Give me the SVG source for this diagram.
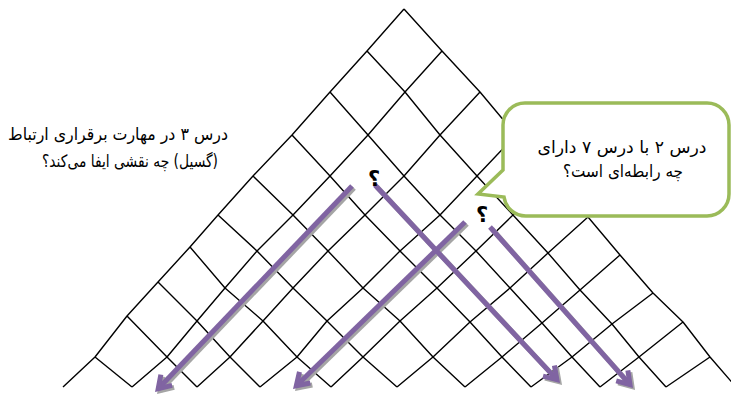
<svg xmlns="http://www.w3.org/2000/svg" width="731" height="394" viewBox="0 0 731 394">
<defs>
<style>
.g{fill:none;stroke:#000;stroke-width:1.4;stroke-linejoin:round}
.a{fill:none;stroke:#8064A2;stroke-width:5}
.s{fill:none;stroke:#A5A5A5;stroke-width:5}
.t{font-family:"DejaVu Sans",sans-serif;font-size:17px;fill:#000;text-anchor:middle;direction:rtl;unicode-bidi:embed}
.q{font-family:"DejaVu Sans",sans-serif;font-size:21px;font-weight:bold;fill:#000;text-anchor:middle}
</style>
<marker id="mh" markerUnits="userSpaceOnUse" orient="auto" refX="0" refY="0" markerWidth="40" markerHeight="40" viewBox="-20 -20 40 40" overflow="visible">
<path d="M-12,-7.8 L0,0 L-12,7.8" fill="none" stroke="#8064A2" stroke-width="5"/>
</marker>
<marker id="ms" markerUnits="userSpaceOnUse" orient="auto" refX="0" refY="0" markerWidth="40" markerHeight="40" viewBox="-20 -20 40 40" overflow="visible">
<path d="M-12,-7.8 L0,0 L-12,7.8" fill="none" stroke="#A5A5A5" stroke-width="5"/>
</marker>
</defs>
<rect width="731" height="394" fill="#fff"/>
<g id="grid">
<polyline class="g" points="404,9 367,51 330,92 292,135 253,176 218,215 190,247 158,282 127,316 95,357 63,387"/>
<polyline class="g" points="442,51 405,92 368,135 330,176 293,215 257,251 225,288 197,321 167,357 132,387"/>
<polyline class="g" points="480,92 440,135 404,176 365,215 328,251 293,288 263,321 230,357 197,387"/>
<polyline class="g" points="516,135 477,176 440,215 400,251 363,288 327,321 297,357 260,387"/>
<polyline class="g" points="552,176 513,215 476,251 437,288 400,321 363,357 331,387"/>
<polyline class="g" points="588,217 548,253 510,288 470,322 433,357 397,387"/>
<polyline class="g" points="620,255 580,290 542,323 502,357 465,387"/>
<polyline class="g" points="653,293 612,324 572,357 531,387"/>
<polyline class="g" points="683,322 639,357 600,387"/>
<polyline class="g" points="710,357 666,387"/>
<polyline class="g" points="404,9 442,51 480,92 516,135 552,176 588,217 620,255 653,293 683,322 710,357 736,387"/>
<polyline class="g" points="367,51 405,92 440,135 477,176 513,215 548,253 580,290 612,324 639,357 666,387"/>
<polyline class="g" points="330,92 368,135 404,176 440,215 476,251 510,288 542,323 572,357 600,387"/>
<polyline class="g" points="292,135 330,176 365,215 400,251 437,288 470,322 502,357 531,387"/>
<polyline class="g" points="253,176 293,215 328,251 363,288 400,321 433,357 465,387"/>
<polyline class="g" points="218,215 257,251 293,288 327,321 363,357 397,387"/>
<polyline class="g" points="190,247 225,288 263,321 297,357 331,387"/>
<polyline class="g" points="158,282 197,321 230,357 260,387"/>
<polyline class="g" points="127,316 167,357 197,387"/>
<polyline class="g" points="95,357 132,387"/>
</g>
<g id="connectors">
<g transform="translate(2,2)">
<line class="s" x1="352" y1="186" x2="158.2" y2="388.7" marker-end="url(#ms)"/>
<line class="s" x1="375" y1="185" x2="556.9" y2="379.6" marker-end="url(#ms)"/>
<line class="s" x1="465" y1="222" x2="296.3" y2="385.8" marker-end="url(#ms)"/>
<line class="s" x1="490" y1="227" x2="630" y2="384.6" marker-end="url(#ms)"/>
</g>
<line id="arrow1" class="a" x1="352" y1="186" x2="158.2" y2="388.7" marker-end="url(#mh)"/>
<line id="arrow2" class="a" x1="375" y1="185" x2="556.9" y2="379.6" marker-end="url(#mh)"/>
<line id="arrow3" class="a" x1="465" y1="222" x2="296.3" y2="385.8" marker-end="url(#mh)"/>
<line id="arrow4" class="a" x1="490" y1="227" x2="630" y2="384.6" marker-end="url(#mh)"/>
</g>
<g id="q1"><text class="q" x="374" y="186">؟</text></g>
<g id="q2"><text class="q" x="482" y="222">؟</text></g>
<g id="bubble">
<path d="M525,103 H707 A22,22 0 0 1 729,125 V194 A22,22 0 0 1 707,216 H526 A22,22 0 0 1 504,197 L478,194 L503,170 V125 A22,22 0 0 1 525,103 Z" fill="#fff" stroke="#9BBB59" stroke-width="3.5" stroke-linejoin="miter"/>
<text class="t" x="622" y="153" textLength="169" lengthAdjust="spacingAndGlyphs">درس ۲ با درس ۷ دارای</text>
<text class="t" x="623" y="177" textLength="120" lengthAdjust="spacingAndGlyphs">چه رابطه‌ای است؟</text>
</g>
<g id="question">
<text class="t" x="118" y="140" textLength="220" lengthAdjust="spacingAndGlyphs">درس ۳ در مهارت برقراری ارتباط</text>
<text class="t" x="130" y="167" textLength="176" lengthAdjust="spacingAndGlyphs">(گسیل) چه نقشی ایفا می‌کند؟</text>
</g>
</svg>
